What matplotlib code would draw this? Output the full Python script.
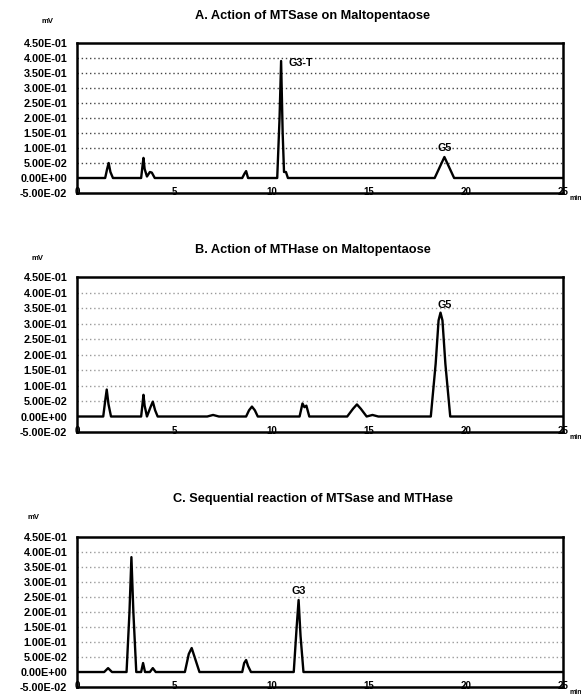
import matplotlib
matplotlib.use("Agg")
import matplotlib.pyplot as plt

plt.rcParams['font.family'] = ['Liberation Sans', 'DejaVu Sans']
plt.rcParams['font.weight'] = 'bold'

# y ticks shared by all three panels
y_ticks = [-0.05, 0.0, 0.05, 0.10, 0.15, 0.20, 0.25, 0.30, 0.35, 0.40, 0.45]
y_labels = ["-5.00E-02", "0.00E+00", "5.00E-02", "1.00E-01", "1.50E-01",
            "2.00E-01", "2.50E-01", "3.00E-01", "3.50E-01", "4.00E-01", "4.50E-01"]
x_ticks = [0, 5, 10, 15, 20, 25]
x_labels = ["0", "5", "10", "15", "20", "25"]

titles = ["A. Action of MTSase on Maltopentaose",
          "B. Action of MTHase on Maltopentaose",
          "C. Sequential reaction of MTSase and MTHase"]

# trace (time in min, signal)
t_a = [0, 1.45, 1.55, 1.63, 1.72, 1.85, 3.3, 3.37, 3.42, 3.48, 3.6, 3.75, 3.85, 4.0,
       8.5, 8.62, 8.7, 8.8, 10.3, 10.42, 10.5, 10.58, 10.65, 10.75, 10.85,
       18.4, 18.65, 18.9, 19.15, 19.4, 25]
v_a = [0, 0, 0.03, 0.05, 0.02, 0, 0, 0.04, 0.067, 0.03, 0.005, 0.02, 0.018, 0,
       0, 0.015, 0.023, 0, 0, 0.2, 0.39, 0.15, 0.02, 0.02, 0,
       0, 0.035, 0.07, 0.035, 0, 0]

t_b = [0, 1.35, 1.45, 1.53, 1.62, 1.75, 3.3, 3.37, 3.42, 3.48, 3.6, 3.78, 3.9, 4.02, 4.15,
       6.7, 7.0, 7.3, 8.7, 8.85, 9.0, 9.15, 9.3, 11.45, 11.6, 11.7, 11.8, 11.95,
       13.9, 14.2, 14.4, 14.6, 14.9, 15.2, 15.5, 18.2, 18.45, 18.6, 18.7, 18.8, 18.95, 19.2, 25]
v_b = [0, 0, 0.05, 0.087, 0.04, 0, 0, 0.04, 0.07, 0.035, 0, 0.03, 0.048, 0.02, 0,
       0, 0.005, 0, 0, 0.02, 0.032, 0.02, 0, 0, 0.042, 0.03, 0.035, 0,
       0, 0.025, 0.039, 0.025, 0, 0.005, 0, 0, 0.17, 0.31, 0.335, 0.31, 0.17, 0, 0]

t_c = [0, 1.4, 1.6, 1.8, 2.55, 2.7, 2.8, 2.9, 3.05, 3.3, 3.4, 3.5, 3.75, 3.9, 4.05,
       5.55, 5.75, 5.9, 6.05, 6.3, 8.5, 8.6, 8.7, 8.8, 8.95,
       11.15, 11.3, 11.4, 11.5, 11.65, 25]
v_c = [0, 0, 0.013, 0, 0, 0.2, 0.383, 0.2, 0, 0, 0.03, 0, 0, 0.013, 0,
       0, 0.06, 0.08, 0.05, 0, 0, 0.03, 0.04, 0.02, 0,
       0, 0.15, 0.24, 0.12, 0, 0]

traces = [(t_a, v_a), (t_b, v_b), (t_c, v_c)]

# peak annotations: label, time, value
peak_labels = [[("G3-T", 10.9, 0.385), ("G5", 18.9, 0.085)],
               [("G5", 18.9, 0.345)],
               [("G3", 11.4, 0.255)]]
grid_colors = ["#444444", "#9a9a9a", "#9a9a9a"]

# axes boxes in figure fractions [left, bottom, width, height]
boxes = [[0.1325, 0.7227, 0.8365, 0.2155],
         [0.1325, 0.3793, 0.8365, 0.2227],
         [0.1325, 0.0129, 0.8365, 0.2155]]
title_y = [0.977, 0.641, 0.283]
mv_xy = [(0.081, 0.967), (0.064, 0.626), (0.057, 0.255)]

fig = plt.figure(figsize=(5.81, 6.96), dpi=100)

for i in range(3):
    ax = fig.add_axes(boxes[i])
    t, v = traces[i]
    ax.plot(t, v, color="black", lw=1.7, solid_joinstyle="round")
    ax.set_xlim(0, 25)
    ax.set_ylim(-0.05, 0.45)
    for g in y_ticks[2:-1]:
        ax.axhline(g, color=grid_colors[i], lw=1.0, ls=(0, (1, 2)), zorder=0)
    ax.set_yticks(y_ticks)
    ax.set_yticklabels(y_labels, fontsize=7.8, fontweight="bold")
    ax.set_xticks(x_ticks)
    ax.set_xticklabels(x_labels, fontsize=7, fontweight="bold")
    ax.tick_params(axis="y", length=0, pad=7)
    ax.tick_params(axis="x", length=0, pad=-4)
    for lab in ax.get_xticklabels():
        lab.set_bbox(dict(facecolor="white", edgecolor="none", pad=0.3))
    for s in ax.spines.values():
        s.set_linewidth(1.8)
        s.set_color("black")
    for name, tt, vv in peak_labels[i]:
        ax.text(tt, vv, name, ha="left" if name == "G3-T" else "center",
                va="bottom" if name != "G3-T" else "center",
                fontsize=7.8, fontweight="bold")
    ax.text(1.013, -0.012, "min", transform=ax.transAxes, fontsize=5,
            fontweight="bold", va="top", ha="left", clip_on=False)
    fig.text(mv_xy[i][0], mv_xy[i][1], "mV", fontsize=5.5, fontweight="bold",
             ha="center")
    fig.text(0.538, title_y[i], titles[i], fontsize=9.2, fontweight="bold",
             ha="center", va="center")

fig.savefig("out.png", dpi=100)
